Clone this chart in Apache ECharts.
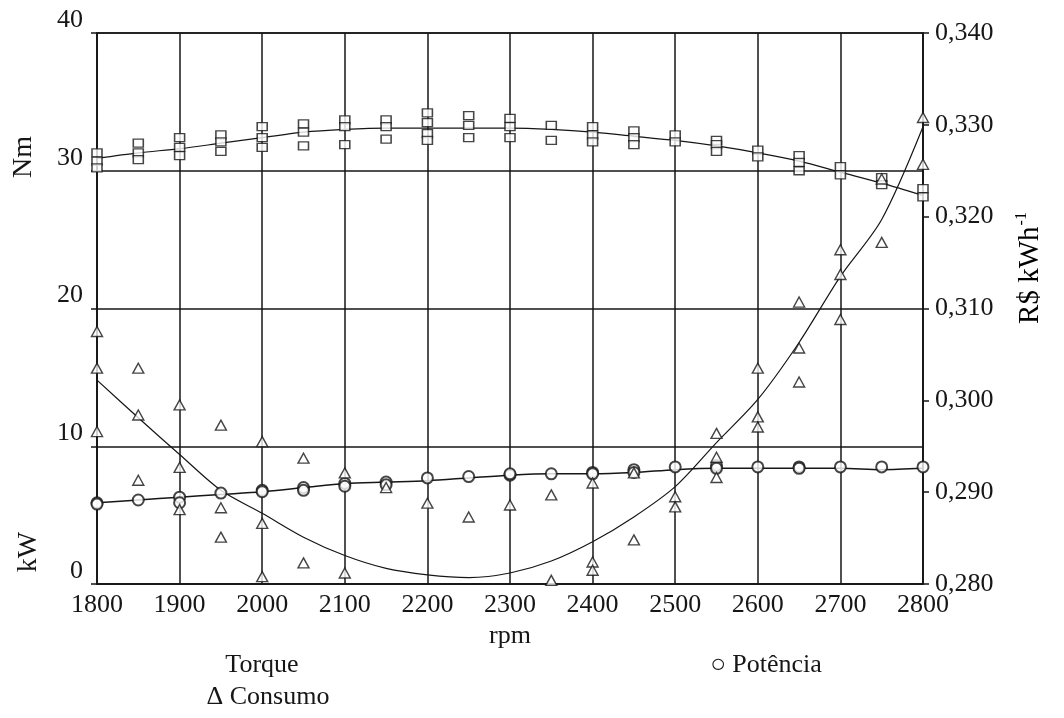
<!DOCTYPE html>
<html>
<head>
<meta charset="utf-8">
<style>
  html, body { margin: 0; padding: 0; background: #fff; }
  #main { width: 1064px; height: 718px; }
</style>
<script src="https://cdn.jsdelivr.net/npm/echarts@6/dist/echarts.min.js"></script>
</head>
<body>
<div id="main"></div>
<script>
// rotações medidas (rpm)
var rpm = [1800, 1850, 1900, 1950, 2000, 2050, 2100, 2150, 2200, 2250, 2300,
           2350, 2400, 2450, 2500, 2550, 2600, 2650, 2700, 2750, 2800];

// torque (Nm) - repetições em cada rotação
var torqueObs = [
    [31.3, 30.7, 30.2], [32.0, 31.3, 30.8], [32.4, 31.7, 31.1], [32.6, 32.1, 31.4],
    [33.2, 32.4, 31.7], [33.4, 32.8, 31.8], [33.7, 33.2, 31.9], [33.7, 33.2, 32.3],
    [34.2, 33.5, 32.7, 32.2], [34.0, 33.3, 32.4], [33.8, 33.2, 32.4], [33.3, 32.2],
    [33.2, 32.6, 32.1], [32.9, 32.4, 31.9], [32.6, 32.1], [32.2, 31.9, 31.4],
    [31.5, 31.0], [31.1, 30.6, 30.0], [30.3, 29.7], [29.5, 29.0], [28.7, 28.1]
];
var torqueFit = [30.9, 31.3, 31.6, 32.0, 32.4, 32.8, 33.0, 33.1, 33.1, 33.1, 33.1,
                 33.0, 32.8, 32.5, 32.2, 31.8, 31.3, 30.7, 29.9, 29.1, 28.2];

// potência (kW)
var potenciaObs = [
    [5.9, 5.8], [6.1], [6.3, 5.9], [6.6], [6.8, 6.7], [7.0, 6.8], [7.3, 7.1],
    [7.4, 7.2], [7.7], [7.8], [7.9, 8.0], [8.0], [8.1, 8.0], [8.3, 8.1], [8.5],
    [8.6, 8.4], [8.5], [8.5, 8.4], [8.5], [8.5], [8.5]
];
var potenciaFit = [5.9, 6.1, 6.3, 6.5, 6.7, 7.0, 7.3, 7.4, 7.5, 7.7, 7.9,
                   8.0, 8.0, 8.1, 8.3, 8.4, 8.4, 8.4, 8.4, 8.3, 8.4];

// consumo (R$ kWh-1)
var consumoObs = [
    [0.3075, 0.3035, 0.2966], [0.3035, 0.2984, 0.2913], [0.2995, 0.2927, 0.2881],
    [0.2973, 0.2883, 0.2851], [0.2955, 0.2866, 0.2808], [0.2937, 0.2823],
    [0.2921, 0.2812], [0.2905], [0.2888], [0.2873], [0.2886], [0.2897, 0.2804],
    [0.2910, 0.2824, 0.2815], [0.2921, 0.2848], [0.2895, 0.2884],
    [0.2964, 0.2938, 0.2916], [0.3035, 0.2982, 0.2971], [0.3107, 0.3057, 0.3020],
    [0.3164, 0.3137, 0.3088], [0.3241, 0.3172], [0.3308, 0.3257]
];
var consumoFit = [0.3022, 0.2981, 0.2941, 0.2902, 0.2877, 0.2851, 0.2831, 0.2817,
                  0.2810, 0.2807, 0.2812, 0.2825, 0.2846, 0.2873, 0.2906, 0.2954,
                  0.3001, 0.3063, 0.3135, 0.3197, 0.3298];

var xTicks = { min: 1800, max: 2800, step: 100 };
var leftTicks = { min: 0, max: 40, step: 10 };
var rightTicks = { min: 0.28, max: 0.34, step: 0.01 };

var FONT = 'Liberation Serif';
var INK = '#161616';

function pontos(obs) {
    var out = [];
    for (var i = 0; i < obs.length; i++) {
        for (var j = 0; j < obs[i].length; j++) {
            out.push([rpm[i], obs[i][j]]);
        }
    }
    return out;
}

function curva(fit) {
    return rpm.map(function (r, i) { return [r, fit[i]]; });
}

var chart = echarts.init(document.getElementById('main'));

var lineStyle = { color: INK, width: 1.5 };

var option = {
    animation: false,
    backgroundColor: '#fff',
    grid: {
        left: 97, right: 141, top: 33, bottom: 134,
        show: true, borderColor: INK, borderWidth: 1.5
    },
    xAxis: {
        type: 'value',
        min: xTicks.min, max: xTicks.max, interval: xTicks.step,
        name: 'rpm', nameLocation: 'middle', nameGap: 36,
        nameTextStyle: { fontFamily: FONT, fontSize: 26, color: INK },
        axisLine: { lineStyle: lineStyle },
        axisTick: { show: false },
        axisLabel: {
            fontFamily: FONT, fontSize: 26, color: INK, margin: 8,
            formatter: function (v) { return String(v); }
        },
        splitLine: { show: true, lineStyle: lineStyle }
    },
    yAxis: [{
        type: 'value',
        min: leftTicks.min, max: leftTicks.max, interval: leftTicks.step,
        axisLine: { show: true, lineStyle: lineStyle },
        axisTick: { show: true, length: 6, lineStyle: lineStyle },
        axisLabel: {
            fontFamily: FONT, fontSize: 26, color: INK, margin: 14,
            verticalAlign: 'bottom'
        },
        splitLine: { show: true, lineStyle: lineStyle }
    }, {
        type: 'value',
        position: 'right',
        min: rightTicks.min, max: rightTicks.max, interval: rightTicks.step,
        axisLine: { show: true, lineStyle: lineStyle },
        axisTick: { show: true, length: 6, lineStyle: lineStyle },
        axisLabel: {
            fontFamily: FONT, fontSize: 26, color: INK, margin: 12,
            formatter: function (v) { return v.toFixed(3).replace('.', ','); }
        },
        splitLine: { show: false }
    }],
    series: [
        {
            name: 'Torque ajuste', type: 'line', yAxisIndex: 0,
            data: curva(torqueFit), smooth: 0.3, symbol: 'none',
            lineStyle: { color: INK, width: 1.2 }, z: 3
        },
        {
            name: 'Torque', type: 'scatter', yAxisIndex: 0,
            data: pontos(torqueObs), symbol: 'rect', symbolSize: [10, 8],
            itemStyle: { color: '#fff', borderColor: INK, borderWidth: 1.4 }, z: 4
        },
        {
            name: 'Potência ajuste', type: 'line', yAxisIndex: 0,
            data: curva(potenciaFit), smooth: 0.3, symbol: 'none',
            lineStyle: { color: INK, width: 1.5 }, z: 3
        },
        {
            name: 'Potência', type: 'scatter', yAxisIndex: 0,
            data: pontos(potenciaObs), symbol: 'circle', symbolSize: 11,
            itemStyle: { color: '#fff', borderColor: INK, borderWidth: 2 }, z: 4
        },
        {
            name: 'Consumo ajuste', type: 'line', yAxisIndex: 1,
            data: curva(consumoFit), smooth: 0.3, symbol: 'none',
            lineStyle: { color: INK, width: 1.2 }, z: 3
        },
        {
            name: 'Consumo', type: 'scatter', yAxisIndex: 1,
            data: pontos(consumoObs), symbol: 'triangle', symbolSize: [11, 10],
            itemStyle: { color: '#fff', borderColor: INK, borderWidth: 1.4 }, z: 4
        }
    ],
    graphic: [
        {
            type: 'text', x: 24, y: 157, rotation: Math.PI / 2,
            style: { text: 'Nm', font: '28px "Liberation Serif"', fill: INK,
                     textAlign: 'center', textVerticalAlign: 'middle' }
        },
        {
            type: 'text', x: 29, y: 552, rotation: Math.PI / 2,
            style: { text: 'kW', font: '28px "Liberation Serif"', fill: INK,
                     textAlign: 'center', textVerticalAlign: 'middle' }
        },
        {
            type: 'text', x: 1030, y: 268, rotation: Math.PI / 2,
            style: {
                text: '{a|R$ kWh}{s|-1}',
                textAlign: 'center', textVerticalAlign: 'middle',
                rich: {
                    a: { fontFamily: FONT, fontSize: 29, color: INK },
                    s: { fontFamily: FONT, fontSize: 16, color: INK, verticalAlign: 'top', padding: [0, 0, 16, 1] }
                }
            }
        },
        {
            type: 'text', x: 262, y: 665,
            style: { text: 'Torque', font: '26px "Liberation Serif"', fill: INK,
                     textAlign: 'center', textVerticalAlign: 'middle' }
        },
        {
            type: 'text', x: 268, y: 697,
            style: { text: 'Δ Consumo', font: '26px "Liberation Serif"', fill: INK,
                     textAlign: 'center', textVerticalAlign: 'middle' }
        },
        {
            type: 'text', x: 766, y: 665,
            style: { text: '○ Potência', font: '26px "Liberation Serif"', fill: INK,
                     textAlign: 'center', textVerticalAlign: 'middle' }
        }
    ]
};

chart.setOption(option);
</script>
</body>
</html>
